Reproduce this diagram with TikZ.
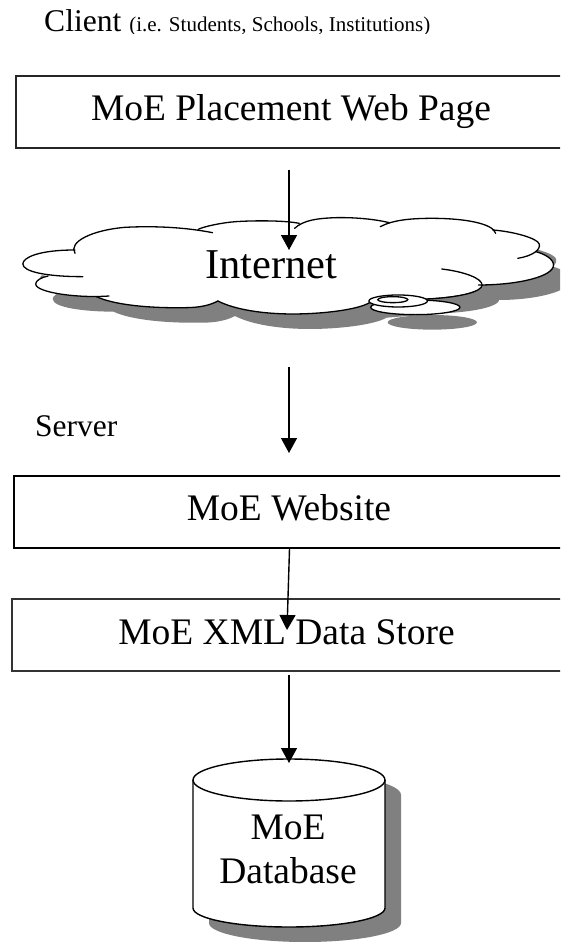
\documentclass[tikz,border=0pt]{standalone}
\usepackage{fontspec}
\setmainfont{Liberation Serif}
\usetikzlibrary{arrows.meta,shapes.geometric}
\tikzset{
  boxnode/.style={draw=black,line width=1.7pt,fill=white,minimum height=72pt,inner sep=0pt},
  lbl/.style={font=\fontsize{37.5}{43.5}\selectfont,anchor=base,inner sep=0pt,align=center},
  conn/.style={line width=1.4pt,-{Triangle[length=15pt,width=16pt]}},
  cloudline/.style={line width=1.3pt,line cap=round},
  shade/.style={fill=black!50,draw=none}
}
\newcommand{\cloudshape}{(205,240) .. controls (110,240) and (64,262) .. (64,282) .. controls (64,305) and (120,318) .. (135,318)
 .. controls (115,322) and (100,332) .. (100,342) .. controls (100,368) and (190,380) .. (270,380)
 .. controls (320,405) and (420,415) .. (520,413) .. controls (560,413) and (590,405) .. (610,393)
 .. controls (660,420) and (740,432) .. (820,432) .. controls (900,432) and (1000,420) .. (1035,398)
 -- (1190,385) .. controls (1300,380) and (1350,360) .. (1350,345)
 .. controls (1450,345) and (1550,320) .. (1550,285) .. controls (1550,265) and (1520,250) .. (1500,245)
 .. controls (1510,235) and (1512,228) .. (1510,222) .. controls (1505,205) and (1440,185) .. (1385,180)
 .. controls (1380,160) and (1300,145) .. (1210,145) .. controls (1150,145) and (1110,150) .. (1090,158)
 .. controls (1040,145) and (980,142) .. (940,143) .. controls (890,145) and (850,150) .. (835,160)
 .. controls (790,150) and (700,152) .. (660,155) .. controls (620,158) and (570,170) .. (555,178)
 .. controls (480,170) and (400,168) .. (350,172) .. controls (260,180) and (195,205) .. (205,240) -- cycle}
\begin{document}
\begin{tikzpicture}[x=1pt,y=-1pt]
\useasboundingbox (0,0) rectangle (560,942);
\begin{scope}
\clip (0,0) rectangle (560,942);
% shadows
\begin{scope}[xshift=17pt,yshift=-185pt,x=0.3571pt,y=-0.3333pt]
 \fill[shade] \cloudshape;
 \fill[shade] (1163,412) ellipse [x radius=125,y radius=22];
\end{scope}
\fill[shade] (209,795) arc[start angle=180,end angle=0,x radius=96,y radius=-21] -- (401,923) arc[start angle=0,end angle=180,x radius=96,y radius=19] -- cycle;
% boxes
\node[boxnode,draw=black!85,minimum width=600pt,anchor=north west] (page) at (15,75) {};
\node[boxnode,line width=2pt,minimum width=600pt,anchor=north west] (site) at (13,475) {};
\node[boxnode,draw=black!80,line width=2pt,minimum width=600pt,anchor=north west] (xml) at (10.5,598) {};
% cloud
\begin{scope}[yshift=-170pt,x=0.3571pt,y=-0.3333pt]
 \fill[white] \cloudshape;
 \draw[cloudline] (210,250) .. controls (190,215) and (260,180) .. (350,172) .. controls (420,168) and (510,170) .. (595,188);
 \draw[cloudline] (210,240) .. controls (110,240) and (64,262) .. (64,282) .. controls (64,305) and (130,320) .. (232,320);
 \draw[cloudline] (135,318) .. controls (115,322) and (100,332) .. (100,342) .. controls (100,368) and (220,385) .. (305,378);
 \draw[cloudline] (270,380) .. controls (320,405) and (420,415) .. (520,413) .. controls (560,413) and (590,405) .. (610,393);
 \draw[cloudline] (610,393) .. controls (660,420) and (740,432) .. (820,432) .. controls (900,432) and (1000,420) .. (1035,398);
 \draw[cloudline] (1237,297) .. controls (1300,305) and (1350,325) .. (1350,345) .. controls (1350,365) and (1290,382) .. (1195,387);
 \draw[cloudline] (1340,345) .. controls (1450,345) and (1550,320) .. (1550,285) .. controls (1550,265) and (1520,250) .. (1500,245);
 \draw[cloudline] (1450,265) .. controls (1490,258) and (1515,240) .. (1510,222) .. controls (1505,205) and (1440,185) .. (1380,180);
 \draw[cloudline] (1388,190) .. controls (1380,160) and (1300,145) .. (1210,145) .. controls (1150,145) and (1100,150) .. (1065,170);
 \draw[cloudline] (1090,158) .. controls (1040,145) and (980,142) .. (940,143) .. controls (890,145) and (850,150) .. (825,175);
 \draw[cloudline] (838,160) .. controls (790,150) and (700,152) .. (660,155) .. controls (620,158) and (570,170) .. (555,178);
 \draw[cloudline,fill=white] (1163,412) ellipse [x radius=125,y radius=22];
 \draw[cloudline,fill=white] (1115,393) ellipse [x radius=82,y radius=18];
 \draw[cloudline,fill=white] (1100,389) ellipse [x radius=42,y radius=9];
\end{scope}
% cylinder
\draw[line width=1.4pt,fill=white] (193,780) -- (193,908) arc[start angle=180,end angle=0,x radius=96,y radius=19] -- (385,780);
\draw[line width=1.4pt,fill=white] (289,780) ellipse [x radius=96,y radius=21];
% texts
\node[lbl] (pagetext) at (291,120.7) {MoE Placement Web Page};
\node[lbl] (sitetext) at (289,520) {MoE Website};
\node[lbl] (xmltext) at (286.5,644) {MoE XML Data Store};
\node[lbl,font=\fontsize{42.5}{48}\selectfont] (nettext) at (271.5,278) {Internet};
\node[lbl,anchor=center] (dbtext) at (288,849.5) {MoE\\Database};
\node[anchor=base west,inner sep=0pt,font=\fontsize{31.5}{36}\selectfont] (servertext) at (35,436) {Server};
\begin{scope}
 \clip (0,0) rectangle (560,33.5);
 \node[anchor=base west,inner sep=0pt] (client) at (44,32) {\fontsize{31.6}{36}\selectfont Client \fontsize{21}{24}\selectfont (i.e. Students, Schools, Institutions)};
\end{scope}
% connectors
\coordinate (a1) at (289,170); \coordinate (a1e) at (289,250);
\coordinate (a2) at (289,367); \coordinate (a2e) at (289,453);
\coordinate (a3) at (289.5,549); \coordinate (a3e) at (287,630);
\coordinate (a4) at (289,675); \coordinate (a4e) at (289,763);
\draw[conn] (a1) -- (a1e);
\draw[conn] (a2) -- (a2e);
\draw[conn] (a3) -- (a3e);
\draw[conn] (a4) -- (a4e);
\end{scope}
\end{tikzpicture}
\end{document}
